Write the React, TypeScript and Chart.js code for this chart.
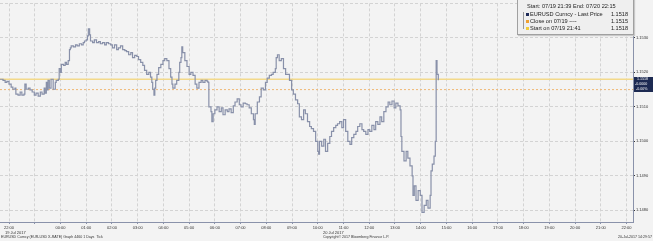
import React, { useEffect, useRef } from "react";
import { Chart, registerables } from "chart.js";

Chart.register(...registerables);

// minutes after 22:00 on 19 Jul 2017
const tickMinutes = [
  -21, -14, -9, -5, 0, 5, 9, 14, 16, 21, 26, 30, 35, 37, 40, 45, 49, 54, 59, 63, 68, 73, 77, 82, 84, 87, 89, 91, 94, 98, 103, 108, 110, 115,
  117, 120, 122, 127, 131, 134, 138, 141, 143, 145, 150, 155, 159, 164, 169, 173, 176, 180, 183, 185, 188, 190, 195, 199, 204, 209, 213, 218, 223, 227, 232,
  237, 241, 246, 251, 255, 260, 265, 270, 274, 279, 284, 288, 293, 298, 302, 307, 312, 316, 321, 326, 330, 333, 335, 338, 340, 342, 345, 349, 354, 359, 363, 368, 373, 377, 380, 382, 387, 391, 396, 398, 401, 403, 405, 410, 415, 420, 424, 429, 434, 438, 443, 448, 452, 457, 462, 464,
  466, 471, 473, 476, 480, 485, 490, 495, 499, 504, 509, 513, 518, 523, 527, 532, 537, 541, 546, 551, 555, 560, 565, 570, 572, 574, 579, 584, 588, 593, 598, 602, 607, 612, 616, 621, 623, 626, 630, 635, 640, 645, 649, 654, 659, 663, 668, 673, 677, 682, 687, 691, 696, 701, 705, 710,
  715, 720, 722, 724, 729, 734, 738, 743, 748, 752, 757, 762, 766, 771, 776, 780, 785, 790, 795, 799, 804, 809, 813, 818, 823, 827, 832, 837, 841, 846, 851, 855, 860, 865, 869, 874, 879, 884, 888, 893, 898, 902, 907, 912, 914, 916, 921, 926, 930, 935, 940, 942, 945, 949, 954, 959, 963, 968, 973, 977, 982, 984, 987, 991, 994, 996, 998, 1001,
];

const tickPrices = [
  1.1518, 1.15177, 1.15171, 1.15174, 1.15166, 1.15157, 1.15151, 1.15154, 1.15137, 1.15134, 1.15143, 1.15134, 1.15137, 1.15166, 1.15151, 1.15154, 1.15149, 1.15143, 1.15134, 1.1514, 1.15131, 1.15143, 1.15137, 1.15154, 1.1514, 1.15171, 1.15149, 1.15177, 1.15154, 1.1518, 1.15151, 1.15171, 1.15177, 1.1518,
  1.15211, 1.152, 1.15223, 1.1522, 1.15229, 1.15223, 1.15234, 1.15266, 1.15271, 1.15277, 1.15274, 1.1528, 1.15277, 1.15283, 1.1528, 1.15286, 1.15291, 1.15294, 1.15306, 1.15326, 1.15309, 1.15291, 1.15286, 1.15294, 1.15286, 1.15289, 1.15283, 1.15286, 1.1528, 1.15286, 1.15283,
  1.1528, 1.15271, 1.1528, 1.15266, 1.15271, 1.15277, 1.15266, 1.15263, 1.1526, 1.15251, 1.15257, 1.15243, 1.15249, 1.15246, 1.15237, 1.15229, 1.1522, 1.15206, 1.15194, 1.152, 1.15186, 1.15171, 1.15151, 1.15134, 1.15154, 1.15177, 1.15194, 1.15214, 1.15223, 1.15234, 1.1524, 1.15234, 1.15211, 1.15186, 1.15166, 1.15154, 1.15166, 1.15177, 1.152, 1.15229, 1.15243, 1.15274, 1.15257, 1.15234, 1.15217, 1.15194, 1.152, 1.15191, 1.15166, 1.15154, 1.15171, 1.15177, 1.15171, 1.15177, 1.15174, 1.15171,
  1.151, 1.15086, 1.15057, 1.1508, 1.15091, 1.151, 1.15086, 1.15097, 1.15077, 1.15091, 1.15086, 1.15094, 1.15083, 1.15103, 1.15114, 1.15123, 1.15106, 1.151, 1.15111, 1.15109, 1.15106, 1.15097, 1.1508, 1.15063, 1.15049, 1.1508, 1.15114, 1.15129, 1.15154, 1.15149, 1.15171, 1.15183, 1.15191, 1.15194, 1.152, 1.15211, 1.15243, 1.15251, 1.15234, 1.1524, 1.15211, 1.15194, 1.15194, 1.15177, 1.15149, 1.15137, 1.1512, 1.15109, 1.15071, 1.15063, 1.15091, 1.1508, 1.15057, 1.15043, 1.15037, 1.15029,
  1.15, 1.14971, 1.14963, 1.15, 1.14986, 1.15006, 1.14971, 1.14994, 1.15014, 1.15029, 1.1504, 1.15046, 1.15051, 1.15057, 1.1504, 1.15063, 1.15029, 1.15, 1.14991, 1.15011, 1.1502, 1.15029, 1.15043, 1.15051, 1.15034, 1.15029, 1.1502, 1.15034, 1.15029, 1.15046, 1.15034, 1.15057, 1.15049, 1.15071, 1.15057, 1.15086, 1.151, 1.15114, 1.15106, 1.15117, 1.15097, 1.15111, 1.15103, 1.15091, 1.15014, 1.14971, 1.14943, 1.14971, 1.14951, 1.14929, 1.149, 1.14843, 1.14871, 1.14829, 1.14857, 1.14843, 1.14794, 1.14814, 1.14829, 1.14806, 1.14843, 1.14914, 1.14934, 1.14957, 1.15, 1.15234, 1.15194, 1.15177,
];

const startLevel = 1.1518;
const closeLevel = 1.1515;
const lastPrice = 1.1518;

const xTickMinutes = [0, 60, 120, 180, 240, 300, 360, 420, 480, 540, 600, 660, 720, 780, 840, 900, 960, 1020, 1080, 1140, 1200, 1260, 1320, 1380, 1440];
const xTickLabels = ["22:00", "", "00:00", "01:00", "02:00", "03:00", "04:00", "05:00", "06:00", "07:00", "08:00", "09:00", "10:00", "11:00", "12:00", "13:00", "14:00", "15:00", "16:00", "17:00", "18:00", "19:00", "20:00", "21:00", "22:00"];
const yTickValues = [1.148, 1.149, 1.15, 1.151, 1.152, 1.153, 1.154];
const xMin = -21;
const xMax = 1455;
const yMin = 1.14766;
const yMax = 1.154;

const BG = "#f3f3f3";
const LINE = "#8890a9";
const FONT = "'Liberation Sans', Arial, sans-serif";

export default function App() {
  const ref = useRef<HTMLCanvasElement | null>(null);

  useEffect(() => {
    document.body.style.margin = "0";
    document.body.style.background = BG;
    const ctx = ref.current!.getContext("2d")!;
    const chart = new Chart(ctx, {
      type: "line",
      data: {
        datasets: [
          {
            data: tickMinutes.map((m, i) => ({ x: m, y: tickPrices[i] })),
            borderColor: LINE,
            borderWidth: 1.2,
            stepped: true,
            pointRadius: 0,
            order: 0,
          },
          {
            data: [
              { x: xMin, y: startLevel },
              { x: xMax, y: startLevel },
            ],
            borderColor: "#f3d98a",
            borderWidth: 1.5,
            pointRadius: 0,
            order: 1,
          },
          {
            data: [
              { x: xMin, y: closeLevel },
              { x: xMax, y: closeLevel },
            ],
            borderColor: "#efb874",
            borderWidth: 1,
            borderDash: [2, 2],
            pointRadius: 0,
            order: 2,
          },
        ],
      },
      options: {
        animation: false,
        responsive: false,
        devicePixelRatio: 1,
        layout: { padding: 0 },
        plugins: { legend: { display: false }, tooltip: { enabled: false } },
        scales: {
          x: {
            type: "linear",
            min: xMin,
            max: xMax,
            position: "bottom",
            afterBuildTicks: (s: any) => {
              s.ticks = xTickMinutes.map((v) => ({ value: v }));
            },
            afterFit: (s: any) => {
              s.height = 19;
            },
            grid: {
              color: "#d3d3d3",
              lineWidth: 1,
              drawTicks: true,
              tickLength: 2,
              tickColor: "#8a92aa",
            },
            border: { display: true, color: "#8a92aa", width: 1, dash: [3, 2] },
            ticks: {
              autoSkip: false,
              maxRotation: 0,
              padding: 1,
              color: "#333",
              font: { size: 4, family: FONT },
              callback: (v: any) => {
                const i = xTickMinutes.indexOf(Number(v));
                return i >= 0 ? xTickLabels[i] : "";
              },
            },
          },
          y: {
            type: "linear",
            min: yMin,
            max: yMax,
            position: "right",
            afterBuildTicks: (s: any) => {
              s.ticks = yTickValues.map((v) => ({ value: v }));
            },
            afterFit: (s: any) => {
              s.width = 20;
            },
            grid: {
              color: "#d3d3d3",
              lineWidth: 1,
              drawTicks: true,
              tickLength: 2,
              tickColor: "#333",
            },
            border: { display: true, color: "#8a92aa", width: 1, dash: [3, 2] },
            ticks: {
              padding: 1,
              color: "#333",
              font: { size: 4, family: FONT },
              callback: (v: any) => (Number(v) >= 1.1539 ? "" : Number(v).toFixed(4)),
            },
          },
        },
      },
    });
    return () => chart.destroy();
  }, []);

  const txt = (extra: React.CSSProperties): React.CSSProperties => ({
    position: "absolute",
    fontFamily: FONT,
    color: "#333",
    whiteSpace: "nowrap",
    lineHeight: 1,
    ...extra,
  });

  const legendRow = (color: string, label: string, value: string, top: number) => (
    <div style={txt({ left: 8, top, width: 102, fontSize: "5.6px", color: "#222" })}>
      <span style={{ display: "inline-block", width: 3, height: 3, background: color, marginRight: 1, verticalAlign: "middle" }} />
      <span>{label}</span>
      <span style={{ position: "absolute", right: 0 }}>{value}</span>
    </div>
  );

  return (
    <div style={{ position: "absolute", left: 0, top: 0, width: 653, height: 241, background: BG, overflow: "hidden" }}>
      <canvas ref={ref} width={653} height={241} style={{ position: "absolute", left: 0, top: 0 }} />
      <div
        style={{
          position: "absolute",
          left: 517,
          top: -1,
          width: 115,
          height: 34,
          background: "#efefef",
          border: "1px solid #a0a0a0",
          boxShadow: "1px 1px 1px #c8c8c8",
        }}
      >
        <div style={txt({ left: 9, top: 4, fontSize: "5.6px", color: "#222" })}>Start: 07/19 21:39 End: 07/20 22:15</div>
        <div style={{ position: "absolute", left: 5, top: 12, width: 1, height: 17, background: "#999" }} />
        {legendRow("#1f2b58", "EURUSD Curncy - Last Price", "1.1518", 12)}
        {legendRow("#f0a030", "Close on 07/19  ----", "1.1515", 19)}
        {legendRow("#f2cc3a", "Start on 07/19 21:41", "1.1518", 26)}
      </div>
      <div style={{ position: "absolute", left: 634, top: 77, width: 19, height: 15, background: "#1d2a52" }}>
        <div style={txt({ left: 3, top: 1, fontSize: "3.6px", color: "#fff" })}>{lastPrice.toFixed(4)}</div>
        <div style={txt({ left: 1, top: 6, fontSize: "3.6px", color: "#fff" })}>-0.0000</div>
        <div style={txt({ left: 2, top: 10.5, fontSize: "3.6px", color: "#fff" })}>-0.00%</div>
      </div>
      <div style={txt({ left: 5, top: 231, fontSize: "4px" })}>19 Jul 2017</div>
      <div style={txt({ left: 323, top: 231, fontSize: "4px" })}>20 Jul 2017</div>
      <div style={txt({ left: 1, top: 236, fontSize: "3.6px" })}>EURUSD Curncy (EUR-USD X-RATE) Graph 4460 1 Days&nbsp;&nbsp;Tick</div>
      <div style={txt({ left: 323, top: 236, fontSize: "3.6px" })}>Copyright© 2017 Bloomberg Finance L.P.</div>
      <div style={txt({ right: 1, top: 236, fontSize: "3.6px" })}>20-Jul-2017 14:29:57</div>
    </div>
  );
}
